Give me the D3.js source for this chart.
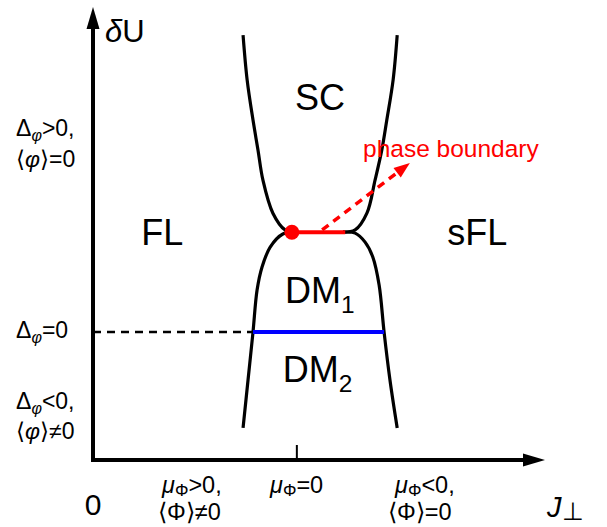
<!DOCTYPE html>
<html>
<head>
<meta charset="utf-8">
<title>Phase diagram</title>
<style>
	body {
		margin: 0;
		background: #fff;
	}
	text {
		font-family: "Liberation Sans", Arial, sans-serif;
	}
</style>
</head>
<body>
<script src="https://d3js.org/d3.v7.min.js"></script>
<script>
	// everything in plot units, J along x and dU along y, both 0..100
	var upperLeft = [[33.2, 94.0], [34.1, 84.1], [35.4, 75.2], [36.5, 68.6], [37.6, 61.9], [39.8, 54.6], [42.5, 50.9], [44.7, 50.4]];
	var upperRight = [[67.3, 94.0], [66.4, 84.1], [65.0, 75.2], [63.9, 68.6], [62.4, 61.9], [60.6, 54.6], [58.0, 50.9], [55.3, 50.4]];
	var lowerLeft = [[44.7, 50.4], [42.0, 50.0], [39.2, 47.1], [37.4, 42.7], [36.3, 37.6], [35.4, 28.3], [34.3, 17.7], [33.2, 7.1]];
	var lowerRight = [[55.3, 50.4], [58.0, 50.2], [60.2, 48.2], [61.9, 44.9], [63.3, 38.7], [64.4, 28.3], [65.7, 17.7], [67.3, 7.1]];

	var redSegment = [[44.0, 50.4], [55.8, 50.4]];
	var blueSegment = [[35.4, 28.3], [64.4, 28.3]];
	var dashedSegment = [[0, 28.3], [35.4, 28.3]];
	var criticalPoint = [44.0, 50.4];
	var boundaryArrow = [[50.7, 50.9], [70.1, 65.7]];
	var tickValues = [45.1];

	var regionNames = ["SC", "FL", "sFL", "DM", "DM"];
	var regionSubs = ["", "", "", "1", "2"];
	var regionAnchors = [[50.2, 77.4], [15.3, 47.6], [85.0, 47.6], [42.5, 34.7], [42.0, 17.3]];
	var regionAlign = ["middle", "middle", "middle", "start", "start"];

	var width = 607, height = 527;
	var svg = d3.select("body").append("svg")
		.attr("width", width)
		.attr("height", height);

	var x = d3.scaleLinear().domain([0, 100]).range([93, 545]);
	var y = d3.scaleLinear().domain([0, 100]).range([460, 8]);

	var line = d3.line()
		.x(function(d) { return x(d[0]); })
		.y(function(d) { return y(d[1]); })
		.curve(d3.curveCatmullRom.alpha(0.5));
	var straight = d3.line()
		.x(function(d) { return x(d[0]); })
		.y(function(d) { return y(d[1]); });

	// dashed Delta=0 line
	svg.append("path")
		.attr("d", straight(dashedSegment))
		.attr("fill", "none")
		.attr("stroke", "#000")
		.attr("stroke-width", 2.5)
		.attr("stroke-dasharray", "8,6");

	// boundaries
	[upperLeft, upperRight, lowerLeft, lowerRight].forEach(function(c) {
		svg.append("path")
			.attr("d", line(c))
			.attr("fill", "none")
			.attr("stroke", "#000")
			.attr("stroke-width", 3.2);
	});

	svg.append("path")
		.attr("d", straight(blueSegment))
		.attr("stroke", "#0000ff")
		.attr("stroke-width", 4);

	svg.append("path")
		.attr("d", straight(redSegment))
		.attr("stroke", "#ff0000")
		.attr("stroke-width", 4);

	svg.append("circle")
		.attr("cx", x(criticalPoint[0]))
		.attr("cy", y(criticalPoint[1]))
		.attr("r", 7.5)
		.attr("fill", "#ff0000");

	// red dashed arrow
	var ax0 = x(boundaryArrow[0][0]), ay0 = y(boundaryArrow[0][1]);
	var ax1 = x(boundaryArrow[1][0]), ay1 = y(boundaryArrow[1][1]);
	var ang = Math.atan2(ay1 - ay0, ax1 - ax0);
	var headLen = 16, headHalf = 6;
	var bx = ax1 - headLen * Math.cos(ang), by = ay1 - headLen * Math.sin(ang);
	svg.append("line")
		.attr("x1", ax0).attr("y1", ay0)
		.attr("x2", bx + 2 * Math.cos(ang)).attr("y2", by + 2 * Math.sin(ang))
		.attr("stroke", "#ff0000")
		.attr("stroke-width", 3.5)
		.attr("stroke-dasharray", "8,6");
	svg.append("path")
		.attr("d", "M" + ax1 + "," + ay1 +
			"L" + (bx - headHalf * Math.sin(ang)) + "," + (by + headHalf * Math.cos(ang)) +
			"L" + (bx + headHalf * Math.sin(ang)) + "," + (by - headHalf * Math.cos(ang)) + "Z")
		.attr("fill", "#ff0000");

	// axes
	var axes = svg.append("g");
	axes.append("line")
		.attr("x1", x(0)).attr("y1", y(0) + 2)
		.attr("x2", x(0)).attr("y2", y(100) + 18)
		.attr("stroke", "#000").attr("stroke-width", 4);
	axes.append("line")
		.attr("x1", x(0) - 2).attr("y1", y(0))
		.attr("x2", x(100) - 18).attr("y2", y(0))
		.attr("stroke", "#000").attr("stroke-width", 4);
	axes.append("path")
		.attr("d", "M" + x(0) + "," + (y(100) - 1) + "L" + (x(0) - 6.5) + "," + (y(100) + 21) + "L" + (x(0) + 6.5) + "," + (y(100) + 21) + "Z")
		.attr("fill", "#000");
	axes.append("path")
		.attr("d", "M" + x(100) + "," + y(0) + "L" + (x(100) - 22) + "," + (y(0) - 6.5) + "L" + (x(100) - 22) + "," + (y(0) + 6.5) + "Z")
		.attr("fill", "#000");
	axes.selectAll(".tick")
		.data(tickValues)
		.enter().append("line")
		.attr("x1", function(d) { return x(d); })
		.attr("x2", function(d) { return x(d); })
		.attr("y1", y(0))
		.attr("y2", y(0) - 15)
		.attr("stroke", "#000")
		.attr("stroke-width", 2);

	// rich text helper: parts = [text, kind] kind: "", "i" italic, "sub", "subi"
	function rich(px, py, parts, size, anchor, color, subScale, subShift) {
		subScale = subScale || 0.68;
		subShift = subShift || 0.28;
		var t = svg.append("text")
			.attr("x", px).attr("y", py)
			.attr("font-size", size)
			.attr("text-anchor", anchor || "start")
			.attr("fill", color || "#000");
		var shift = 0;
		parts.forEach(function(p) {
			var s = t.append("tspan").text(p[0]);
			var isSub = p[1] === "sub" || p[1] === "subi";
			var want = isSub ? size * subShift : 0;
			if (want !== shift) {
				s.attr("dy", want - shift);
				shift = want;
			}
			if (isSub) s.attr("font-size", size * subScale);
			if (p[1] === "i" || p[1] === "subi") s.attr("font-style", "italic");
		});
		return t;
	}

	regionNames.forEach(function(n, i) {
		var parts = [[n, ""]];
		if (regionSubs[i]) parts.push([regionSubs[i], "sub"]);
		rich(x(regionAnchors[i][0]), y(regionAnchors[i][1]), parts, 36, regionAlign[i]);
	});

	// axis titles
	rich(105, 42, [["δ", "i"], ["U", ""]], 31);
	rich(547, 517, [["J", "i"], ["⊥", "sub"]], 29, "start", "#000", 0.85, 0.1);
	rich(x(0), 515, [["0", ""]], 30, "middle");

	// left labels
	var leftLabels = [
		[[["Δ", ""], ["φ", "subi"], [">0,", ""]], 136],
		[[["⟨", ""], ["φ", "i"], ["⟩=0", ""]], 167],
		[[["Δ", ""], ["φ", "subi"], ["=0", ""]], 338],
		[[["Δ", ""], ["φ", "subi"], ["<0,", ""]], 409],
		[[["⟨", ""], ["φ", "i"], ["⟩≠0", ""]], 439]
	];
	leftLabels.forEach(function(l) {
		rich(16, l[1], l[0], 23, "start", "#000", 0.7, 0.2);
	});

	// bottom labels
	var bottomLabels = [
		[[["μ", "i"], ["Φ", "sub"], [">0,", ""]], 162, 493],
		[[["⟨Φ⟩≠0", ""]], 158, 520],
		[[["μ", "i"], ["Φ", "sub"], ["=0", ""]], 270, 493],
		[[["μ", "i"], ["Φ", "sub"], ["<0,", ""]], 395, 493],
		[[["⟨Φ⟩=0", ""]], 388, 520]
	];
	bottomLabels.forEach(function(l) {
		rich(l[1], l[2], l[0], 23.5, "start", "#000", 0.72, 0.12);
	});

	rich(363, 157, [["phase boundary", ""]], 24.5, "start", "#ff0000");
</script>
</body>
</html>
